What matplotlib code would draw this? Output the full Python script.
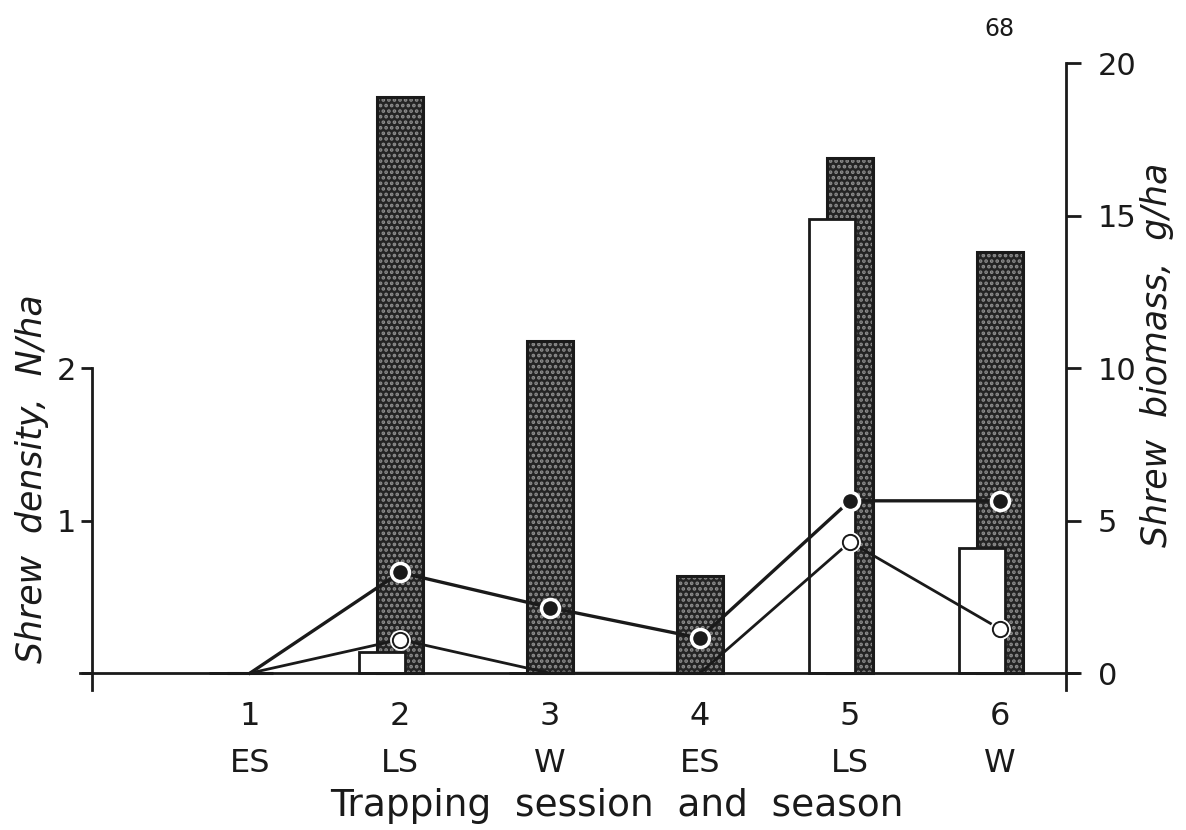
import numpy as np
import matplotlib
matplotlib.use("Agg")
import matplotlib.pyplot as plt

# ---- data ----
sessions = np.array([1, 2, 3, 4, 5, 6])
seasons = ["ES", "LS", "W", "ES", "LS", "W"]

# biomass bars (g/ha, right axis)
biomass_dark = np.array([0.0, 18.9, 10.9, 3.2, 16.9, 13.8])
biomass_white = np.array([0.0, 0.7, 0.0, 0.0, 14.9, 4.1])

# density lines (N/ha, left axis)
density_filled = np.array([0.0, 0.66, 0.43, 0.23, 1.13, 1.13])
density_open = np.array([0.0, 0.22, 0.0, 0.0, 0.86, 0.29])

plt.rcParams["font.family"] = ["DejaVu Sans"]
plt.rcParams["hatch.linewidth"] = 1.8

ink = "#1a1a1a"

fig = plt.figure(figsize=(11.86, 8.30), dpi=100)
ax = fig.add_axes([0.059, 0.1614, 0.860, 0.781])
ax2 = ax.twinx()

ax.set_xlim(-0.2, 6.6)
ax.set_ylim(-0.15, 4.1)
ax2.set_ylim(-0.75, 20.5)

bw = 0.31
# stippled bars (behind)
ax2.bar(sessions, biomass_dark, width=bw, color="#242424", edgecolor="#8e8e8e",
        hatch="...", linewidth=0, zorder=1)
ax2.bar(sessions, biomass_dark, width=bw, fill=False, edgecolor=ink,
        linewidth=2.2, zorder=2)
# open bars (front)
ax2.bar(sessions - 0.12, biomass_white, width=bw, color="white",
        edgecolor=ink, linewidth=2.0, zorder=3)

# density axis drawn above the bars
ax.set_zorder(ax2.get_zorder() + 1)
ax.patch.set_visible(False)

ax.plot(sessions, density_filled, color=ink, lw=2.4, zorder=4)
ax.plot(sessions, density_open, color=ink, lw=2.0, zorder=4)
mf = density_filled > 0
mo = density_open > 0
ax.plot(sessions[mf], density_filled[mf], "o", ms=13, mfc=ink,
        mec="white", mew=2.5, zorder=5)
ax.plot(sessions[mo], density_open[mo], "o", ms=15, mfc="white",
        mec="white", mew=0, zorder=5)
ax.plot(sessions[mo], density_open[mo], "o", ms=11, mfc="white",
        mec=ink, mew=1.4, zorder=6)

# ---- axes styling ----
ax.spines["top"].set_visible(False)
ax2.spines["top"].set_visible(False)
ax.spines["right"].set_visible(False)
ax2.spines["left"].set_visible(False)
ax2.spines["bottom"].set_visible(False)

ax.spines["left"].set_position(("data", -0.05))
ax.spines["left"].set_bounds(-0.11, 2)
ax.spines["bottom"].set_position(("data", 0))
ax.spines["bottom"].set_bounds(-0.13, 6.52)
ax2.spines["right"].set_position(("data", 6.44))
ax2.spines["right"].set_bounds(-0.55, 20)
for sp in (ax.spines["left"], ax.spines["bottom"], ax2.spines["right"]):
    sp.set_linewidth(2.0)
    sp.set_color(ink)

ax.set_yticks([0, 1, 2])
ax.set_yticklabels(["", "1", "2"])
ax.tick_params(axis="y", direction="out", length=8, width=2, pad=4,
               labelsize=22, colors=ink)
ax2.set_yticks([0, 5, 10, 15, 20])
ax2.set_yticklabels(["0", "5", "10", "15", "20"])
ax2.tick_params(axis="y", direction="out", length=11, width=2, pad=12,
                labelsize=22, colors=ink)

ax.set_xticks(sessions)
ax.set_xticklabels([f"{s}\n{z}" for s, z in zip(sessions, seasons)],
                   linespacing=1.65)
ax.tick_params(axis="x", length=0, pad=20, labelsize=23, colors=ink)

ax.set_ylabel("Shrew  density,  N/ha", fontsize=25, style="italic", color=ink)
ax.yaxis.label.set_verticalalignment("center")
ax.yaxis.set_label_coords(-0.037, 0.335)

ax2.set_ylabel("Shrew  biomass,  g/ha", fontsize=25, style="italic", color=ink)
ax2.yaxis.label.set_verticalalignment("center")
ax2.yaxis.set_label_coords(1.066, 0.526)

ax.set_xlabel("Trapping  session  and  season", fontsize=27, color=ink)
ax.xaxis.set_label_coords(0.536, -0.142)

fig.text(0.843, 0.965, "68", fontsize=17, ha="center", va="center", color=ink)

fig.savefig("out.png", dpi=100)
